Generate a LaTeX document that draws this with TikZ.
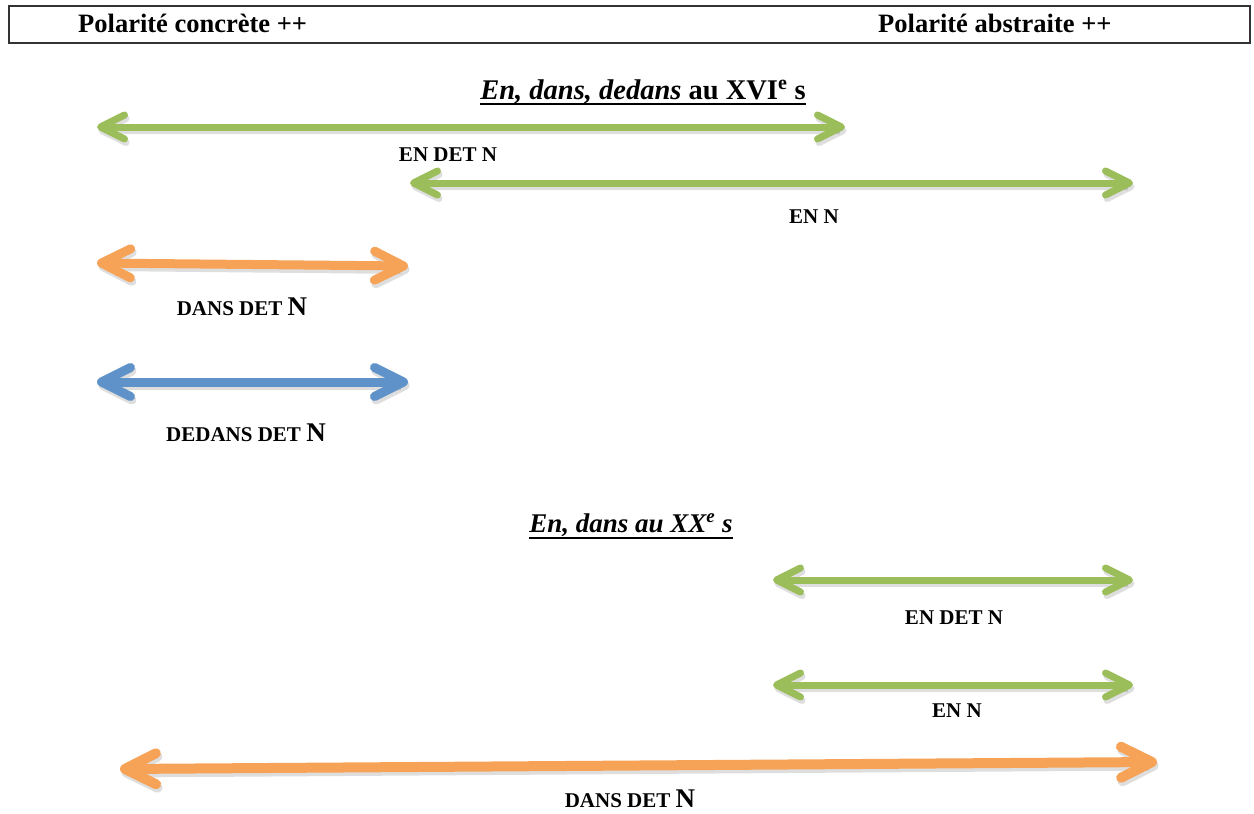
\documentclass[tikz,border=0pt]{standalone}
\usepackage{fontspec}
\setmainfont{Liberation Serif}
\usetikzlibrary{arrows.meta,calc}
\definecolor{lgreen}{RGB}{155,190,90}
\definecolor{lorange}{RGB}{246,163,88}
\definecolor{lblue}{RGB}{94,146,200}
\newcommand{\bigN}{{\fontsize{27}{27}\selectfont N}}
\begin{document}
\begin{tikzpicture}[x=1pt,y=-1pt,
  thinspan/.style={line width=7pt,
    {Straight Barb[length=24pt, width=24pt, round]}-{Straight Barb[length=24pt, width=24pt, round]}},
  thickspan/.style={line width=9pt,
    {Straight Barb[length=29pt, width=29pt, round]}-{Straight Barb[length=29pt, width=29pt, round]}},
  bigspan/.style={line width=10pt,
    {Straight Barb[length=31pt, width=31pt, round]}-{Straight Barb[length=31pt, width=31pt, round]}},
  shade/.style={draw=black, opacity=0.13, transform canvas={shift={(1.5pt,-3.5pt)}}},
  lab/.style={font=\fontsize{21}{21}\selectfont\bfseries, inner sep=0pt},
  head text/.style={font=\fontsize{26.5}{26.5}\selectfont\bfseries, inner sep=0pt, anchor=base west},
  title/.style={font=\fontsize{#1}{#1}\selectfont\bfseries, inner sep=0pt, anchor=base},
  uline/.style={line width=1.8pt}]
\useasboundingbox (0,0) rectangle (1254,814);
\fill[white] (0,0) rectangle (1254,814);

% header band
\draw[line width=1.5pt, black!80] (9,6) rectangle (1250,43);
\node[head text] (conc) at (78,32) {Polarité concrète ++};
\node[head text] (abst) at (878,32) {Polarité abstraite ++};

% sixteenth century
\node[title=28.5] (t1) at (643,99) {\textit{En, dans, dedans} au XVI\textsuperscript{e} s};
\draw[uline] ($(t1.base west)+(0,5)$) -- ($(t1.base east)+(0,5)$);

\coordinate (a1l) at (97,127);  \coordinate (a1r) at (845,127);
\coordinate (a2l) at (410,183); \coordinate (a2r) at (1133,183);
\coordinate (a3l) at (97,263);  \coordinate (a3r) at (408,266);
\coordinate (a4l) at (97,382);  \coordinate (a4r) at (408,382);

\draw[thinspan, shade] (a1l) -- (a1r);
\draw[thinspan, shade] (a2l) -- (a2r);
\draw[thickspan, shade] (a3l) -- (a3r);
\draw[thickspan, shade] (a4l) -- (a4r);
\draw[thinspan, lgreen] (a1l) -- (a1r);
\draw[thinspan, lgreen] (a2l) -- (a2r);
\draw[thickspan, lorange] (a3l) -- (a3r);
\draw[thickspan, lblue] (a4l) -- (a4r);

\node[lab] (l1) at (448,155) {EN DET N};
\node[lab] (l2) at (814,217) {EN N};
\node[lab, anchor=base] (l3) at (242,315) {DANS DET \bigN};
\node[lab, anchor=base] (l4) at (246,441) {DEDANS DET \bigN};

% twentieth century
\node[title=27] (t2) at (631,532) {\textit{En, dans au XX\textsuperscript{e} s}};
\draw[uline] ($(t2.base west)+(0,6)$) -- ($(t2.base east)+(0,6)$);

\coordinate (b1l) at (773,580); \coordinate (b1r) at (1133,580);
\coordinate (b2l) at (773,685); \coordinate (b2r) at (1133,685);
\coordinate (b3l) at (120,769); \coordinate (b3r) at (1157,762);

\draw[thinspan, shade] (b1l) -- (b1r);
\draw[thinspan, shade] (b2l) -- (b2r);
\draw[bigspan, shade] (b3l) -- (b3r);
\draw[thinspan, lgreen] (b1l) -- (b1r);
\draw[thinspan, lgreen] (b2l) -- (b2r);
\draw[bigspan, lorange] (b3l) -- (b3r);

\node[lab] (l5) at (954,618) {EN DET N};
\node[lab] (l6) at (957,711) {EN N};
\node[lab, anchor=base] (l7) at (630,807) {DANS DET \bigN};
\end{tikzpicture}
\end{document}
